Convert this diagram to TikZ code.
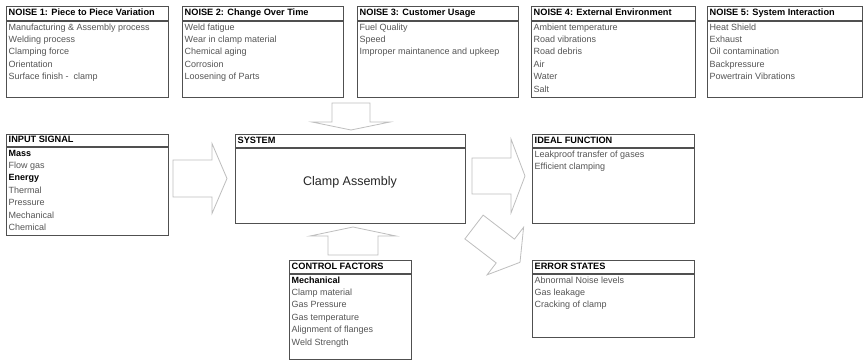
\documentclass[tikz,border=0pt]{standalone}
\usepackage{fontspec}
\setmainfont{Liberation Sans}
\usetikzlibrary{calc}
\definecolor{boxgray}{HTML}{505050}
\definecolor{itemgray}{HTML}{555555}
\definecolor{arrowgray}{HTML}{BEBEBE}

% panel: name, x, y (top left), width, height, title bar, title, entries
\newcommand{\panel}[8]{%
  \node[panel, minimum width=#4pt, minimum height=#5pt] (#1) at (#2,#3) {};
  \draw[rule] ($(#1.north west)+(0,#6)$) -- ($(#1.north east)+(0,#6)$);
  \node[head] (#1-title) at ($(#1.north west)+(2.5,#6/2)$) {#7};
  \foreach \txt [count=\k] in {#8}
    \node[entry] (#1-\k) at ($(#1.north west)+(2.5,#6+6.8+12.4*\k-12.4)$) {\txt};
}

% block arrow: name, x, y (back centre), angle, shaft length, length, shaft half, head half
\newcommand{\blockarrow}[8]{%
  \begin{scope}[shift={(#2,#3)}, rotate=#4]
    \coordinate (#1) at (0,0);
    \draw[fatarrow] (0,#7) -- (#5,#7) -- (#5,#8) -- (#6,0) -- (#5,-#8)
      -- (#5,-#7) -- (0,-#7) -- cycle;
  \end{scope}}

\begin{document}
\begin{tikzpicture}[
    x=1pt, y=-1pt,
    panel/.style={draw=boxgray, line width=1.2pt, fill=white, anchor=north west, inner sep=0pt},
    rule/.style={boxgray, line width=1.2pt},
    head/.style={anchor=west, inner sep=0pt, text height=6.6pt, text depth=1.9pt,
      font=\bfseries\fontsize{9.2}{11}\selectfont},
    entry/.style={anchor=west, inner sep=0pt, text=itemgray, text height=6.6pt, text depth=1.9pt,
      font=\fontsize{9}{11}\selectfont},
    fatarrow/.style={draw=arrowgray, line width=0.8pt, fill=white, line join=miter}
  ]
  \useasboundingbox (0,0) rectangle (864,362);

  % Noise factors
  \panel{noise1}{6}{6}{162}{91}{15}{NOISE 1: Piece to Piece Variation}
    {Manufacturing \& Assembly process, Welding process, Clamping force, Orientation, Surface finish -\ \ clamp}
  \panel{noise2}{182}{6}{161}{91}{15}{NOISE 2: Change Over Time}
    {Weld fatigue, Wear in clamp material, Chemical aging, Corrosion, Loosening of Parts}
  \panel{noise3}{357}{6}{161}{91}{15}{NOISE 3: Customer Usage}
    {Fuel Quality, Speed, Improper maintanence and upkeep}
  \panel{noise4}{531}{6}{164}{91}{15}{NOISE 4: External Environment}
    {Ambient temperature, Road vibrations, Road debris, Air, Water, Salt}
  \panel{noise5}{707}{6}{155}{91}{15}{NOISE 5: System Interaction}
    {Heat Shield, Exhaust, Oil contamination, Backpressure, Powertrain Vibrations}

  % Input, system and outputs
  \panel{input}{6}{134}{162}{101}{13}{INPUT SIGNAL}
    {\textcolor{black}{\bfseries Mass}, Flow gas, \textcolor{black}{\bfseries Energy}, Thermal, Pressure, Mechanical, Chemical}
  \panel{system}{235}{134}{230}{89}{14}{SYSTEM}{}
  \node[font=\fontsize{12.5}{15}\selectfont, text=black!85] (clamp) at (350,182) {Clamp Assembly};
  \panel{ideal}{532}{134}{162}{89}{14}{IDEAL FUNCTION}
    {Leakproof transfer of gases, Efficient clamping}
  \panel{error}{532}{260}{162}{77}{14}{ERROR STATES}
    {Abnormal Noise levels, Gas leakage, Cracking of clamp}
  \panel{control}{289}{260}{122}{99}{14}{CONTROL FACTORS}
    {\textcolor{black}{\bfseries Mechanical}, Clamp material, Gas Pressure, Gas temperature, Alignment of flanges, Weld Strength}

  % Block arrows into and out of the system
  \blockarrow{noisein}{351}{103}{-90}{19}{27}{19}{39}
  \blockarrow{controlin}{353}{255}{90}{19}{28}{25}{43}
  \blockarrow{signalin}{173}{178.5}{0}{39}{54}{18.5}{35}
  \blockarrow{idealout}{472}{176}{0}{39}{53}{18}{37}
  \blockarrow{errorout}{474}{227}{-37.5}{39.5}{58}{15}{30}
\end{tikzpicture}
\end{document}
